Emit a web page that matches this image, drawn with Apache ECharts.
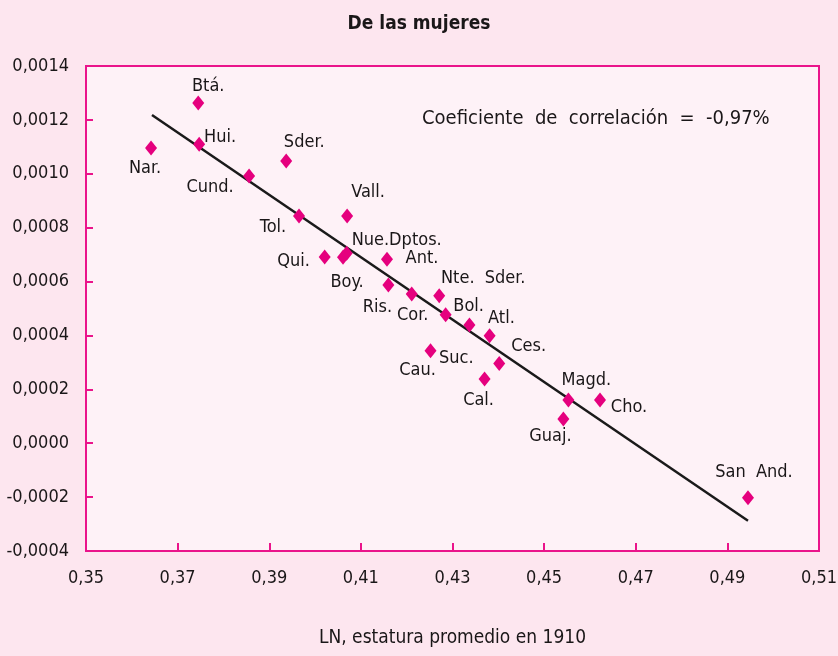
<!DOCTYPE html>
<html>
<head>
<meta charset="utf-8">
<script src="https://cdn.jsdelivr.net/npm/echarts@6/dist/echarts.min.js"></script>
<style>
html,body{margin:0;padding:0;background:#fde6ef;}
#chart{width:838px;height:656px;}
</style>
</head>
<body>
<div id="chart"></div>
<script>
// Data
var names = ["Nar.","Btá.","Hui.","Cund.","Sder.","Tol.","Vall.","Qui.","Boy.","Nue.Dptos.","Ant.","Ris.","Cor.","Nte.  Sder.","Bol.","Atl.","Ces.","Suc.","Cau.","Cal.","Magd.","Cho.","Guaj.","San  And."];
var xValues = [0.3642,0.3745,0.3747,0.3856,0.3937,0.3965,0.4070,0.4021,0.4061,0.4069,0.4157,0.4160,0.4211,0.4271,0.4285,0.4337,0.4381,0.4402,0.4252,0.4370,0.4553,0.4622,0.4542,0.4945];
var yValues = [0.001096,0.001263,0.001110,0.000992,0.001047,0.000843,0.000843,0.000691,0.000690,0.000705,0.000683,0.000587,0.000554,0.000547,0.000477,0.000439,0.000399,0.000296,0.000343,0.000238,0.000160,0.000160,0.000090,-0.000202];
var trendX = [0.3644, 0.4945];
var trendY = [0.001218, -0.000288];
var xTicks = ["0,35","0,37","0,39","0,41","0,43","0,45","0,47","0,49","0,51"];
var yTicks = ["-0,0004","-0,0002","0,0000","0,0002","0,0004","0,0006","0,0008","0,0010","0,0012","0,0014"];

// label placement (layout only, pixel offsets of label centre from the marker)
var labelOffsets = [[-6,20],[10,-17],[21,-7],[-39,11],[18,-19],[-26,11],[21,-24],[-31,4],[4,25],[50,-13],[35,-1],[-11,22],[1,21],[44,-18],[23,-8],[32,-7],[39,11],[-43,-5],[-13,20],[-6,21],[18,-20],[29,7],[-13,17],[6,-25]];

var FONT = "'Liberation Sans Narrow','DejaVu Sans Condensed',sans-serif";
var TXT = '#1a1718';
var PINK = '#ea148b';

var pts = names.map(function(n,i){
  return {name: n, value: [xValues[i], yValues[i]]};
});

var chart = echarts.init(document.getElementById('chart'), null, {renderer:'canvas'});
chart.setOption({
  backgroundColor: '#fde6ef',
  animation: false,
  title: {
    text: 'De las mujeres',
    left: 'center',
    top: 10,
    textStyle: {fontFamily: FONT, fontSize: 19, fontWeight: 'bold', color: TXT}
  },
  grid: {
    left: 86, right: 19, top: 66, bottom: 105,
    outerBoundsMode: 'none', containLabel: false,
    show: true, backgroundColor: '#fef2f7', borderColor: PINK, borderWidth: 2
  },
  xAxis: {
    type: 'value', min: 0.35, max: 0.51, interval: 0.02,
    name: 'LN, estatura promedio en 1910',
    nameLocation: 'middle', nameGap: 78,
    nameTextStyle: {fontFamily: FONT, fontSize: 19, color: TXT},
    axisLine: {show: true, onZero: false, lineStyle: {color: PINK, width: 2}},
    axisTick: {show: true, inside: true, length: 8, lineStyle: {color: PINK, width: 2}},
    splitLine: {show: false},
    axisLabel: {
      margin: 18, fontFamily: FONT, fontSize: 18, color: TXT,
      formatter: function(v){
        var idx = Math.round((v - 0.35)/0.02);
        return xTicks[idx] !== undefined ? xTicks[idx] : '';
      }
    }
  },
  yAxis: {
    type: 'value', min: -0.0004, max: 0.0014, interval: 0.0002,
    axisLine: {show: true, onZero: false, lineStyle: {color: PINK, width: 2}},
    axisTick: {show: true, inside: true, length: 7, lineStyle: {color: PINK, width: 2}},
    splitLine: {show: false},
    axisLabel: {
      margin: 17, fontFamily: FONT, fontSize: 18, color: TXT,
      formatter: function(v){
        var idx = Math.round((v + 0.0004)/0.0002);
        return yTicks[idx] !== undefined ? yTicks[idx] : '';
      }
    }
  },
  graphic: [{
    type: 'text',
    left: 422, top: 109,
    style: {
      text: 'Coeficiente  de  correlación  =  -0,97%',
      font: "20px 'Liberation Sans Narrow','DejaVu Sans Condensed',sans-serif",
      fill: TXT
    }
  }],
  series: [{
    type: 'line',
    data: trendX.map(function(x,i){return [x, trendY[i]];}),
    showSymbol: false, symbol: 'none',
    lineStyle: {color: '#1a1a1a', width: 2.5},
    silent: true, z: 2
  },{
    type: 'scatter',
    data: pts,
    symbol: 'diamond',
    symbolSize: [12,15],
    itemStyle: {color: '#e5007e', opacity: 1},
    label: {
      show: true, position: 'inside',
      formatter: '{b}',
      fontFamily: FONT, fontSize: 18, color: TXT,
      textBorderWidth: 0, opacity: 1,
      align: 'center', verticalAlign: 'middle'
    },
    labelLayout: function(params){
      var o = labelOffsets[params.dataIndex] || [0,0];
      return {dx: o[0], dy: o[1], hideOverlap: false};
    },
    z: 3
  }]
});
</script>
</body>
</html>
